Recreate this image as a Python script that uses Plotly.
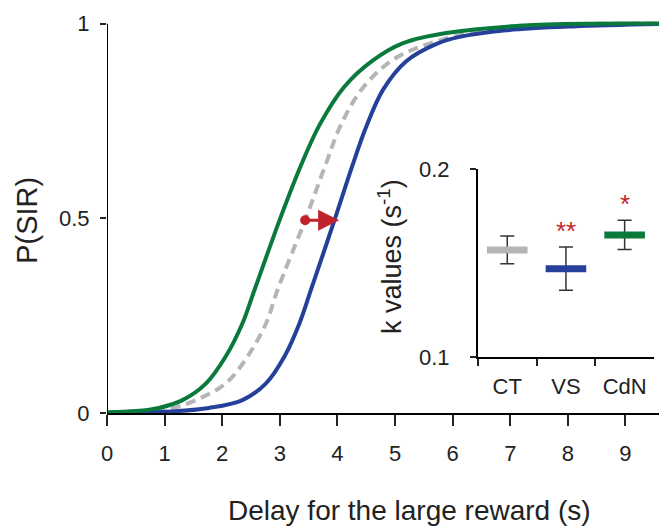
import plotly.graph_objects as go

# Psychometric curves: delay (s) vs P(SIR)
x_ct = [0, 1.0, 1.54, 2.06, 2.44, 2.76, 2.96, 3.44, 3.80, 4.06, 4.44, 4.96, 5.54, 6.3, 7.5, 9.9]
p_ct = [0.001, 0.008, 0.033, 0.076, 0.145, 0.23, 0.316, 0.496, 0.64, 0.74, 0.835, 0.907, 0.946, 0.975, 0.995, 1.0]

x_vs = [0, 1.0, 1.77, 2.35, 2.76, 3.08, 3.34, 3.54, 3.95, 4.27, 4.50, 4.79, 5.19, 5.72, 6.12, 6.93, 8.09, 9.9]
p_vs = [0.0, 0.003, 0.013, 0.033, 0.076, 0.145, 0.23, 0.316, 0.496, 0.64, 0.735, 0.83, 0.903, 0.948, 0.966, 0.983, 0.993, 1.0]

x_cdn = [0, 0.5, 0.9, 1.31, 1.72, 2.06, 2.35, 2.56, 3.02, 3.35, 3.69, 4.12, 4.61, 5.14, 5.89, 7.5, 9.9]
p_cdn = [0.002, 0.005, 0.013, 0.033, 0.076, 0.145, 0.23, 0.316, 0.505, 0.63, 0.74, 0.838, 0.905, 0.95, 0.976, 0.997, 1.0]

# shift arrow (CT -> VS at P = 0.5)
shift_from = 3.44
shift_to = 4.03
shift_p = 0.495

# inset: k values
regions = ["CT", "VS", "CdN"]
k_mean = [0.157, 0.147, 0.165]
k_err = [0.0074, 0.0115, 0.0078]
stars = ["", "**", "*"]

GREEN = "#0A7A3C"
BLUE = "#25409A"
GRAY = "#B5B5B5"
RED = "#C1232C"
FONT = "Arial, Liberation Sans, sans-serif"
bar_colors = [GRAY, BLUE, GREEN]

fig = go.Figure()

fig.add_trace(go.Scatter(x=x_ct, y=p_ct, mode="lines", line_shape="spline",
                         line=dict(color=GRAY, width=4, dash="10px,6px")))
fig.add_trace(go.Scatter(x=x_vs, y=p_vs, mode="lines", line_shape="spline",
                         line=dict(color=BLUE, width=4)))
fig.add_trace(go.Scatter(x=x_cdn, y=p_cdn, mode="lines", line_shape="spline",
                         line=dict(color=GREEN, width=4)))

# red dot + arrow
fig.add_trace(go.Scatter(x=[shift_from], y=[shift_p], mode="markers",
                         marker=dict(color=RED, size=10)))
fig.add_annotation(x=shift_to, y=shift_p, ax=shift_from, ay=shift_p,
                   xref="x", yref="y", axref="x", ayref="y", text="",
                   showarrow=True, arrowhead=2, arrowsize=1.4, arrowwidth=3,
                   arrowcolor=RED, standoff=0)

# inset error bars then thick mean bars
fig.add_trace(go.Scatter(x=regions, y=k_mean, xaxis="x2", yaxis="y2", mode="markers",
                         marker=dict(size=1, color="rgba(0,0,0,0)"),
                         error_y=dict(type="data", array=k_err, color="#333333",
                                      thickness=1.5, width=7)))
fig.add_trace(go.Scatter(x=regions, y=k_mean, xaxis="x2", yaxis="y2", mode="markers",
                         marker=dict(symbol="line-ew", size=29,
                                     line=dict(width=7, color=bar_colors))))

for r, m, e, s in zip(regions, k_mean, k_err, stars):
    if s:
        fig.add_annotation(x=r, y=m + e + 0.0085, xref="x2", yref="y2", text=s,
                           showarrow=False, font=dict(size=26, color=RED, family=FONT))

# y-axis line of main plot (stops at 1)
fig.add_shape(type="line", x0=0, x1=0, y0=0, y1=1, xref="x", yref="y",
              line=dict(color="black", width=2))

TICKFONT = dict(size=22, color="#222222", family=FONT)

fig.update_layout(
    width=667, height=527,
    margin=dict(l=99, r=0, t=11, b=122),
    plot_bgcolor="white", paper_bgcolor="white",
    showlegend=False,
    font=dict(family=FONT, size=22, color="#222222"),
    xaxis=dict(range=[0, 9.86], tickvals=list(range(10)), showgrid=False, zeroline=False,
               showline=True, linecolor="black", linewidth=2, tickfont=TICKFONT,
               ticks="outside", ticklen=11, tickwidth=1.5, tickcolor="#222222",
               ticklabelstandoff=9),
    yaxis=dict(range=[0, 1.012], tickvals=[0, 0.5, 1], ticktext=["0", "0.5", "1"],
               showgrid=False, zeroline=False, showline=False, tickfont=TICKFONT,
               ticks="outside", ticklen=6, tickwidth=1.5, tickcolor="#222222",
               ticklabelstandoff=6),
    xaxis2=dict(domain=[0.653, 0.963], anchor="y2", type="category",
                range=[-0.5, 2.5], tickson="boundaries", showgrid=False, zeroline=False,
                showline=True, linecolor="black", linewidth=2, tickfont=TICKFONT,
                ticks="outside", ticklen=7, tickwidth=1.5, tickcolor="#222222",
                ticklabelstandoff=9),
    yaxis2=dict(domain=[0.142, 0.619], anchor="x2", range=[0.1, 0.2],
                tickvals=[0.1, 0.2], ticktext=["0.1", "0.2"], showgrid=False,
                zeroline=False, showline=True, linecolor="black", linewidth=2,
                tickfont=TICKFONT,
                ticks="outside", ticklen=6, tickwidth=1.5, tickcolor="#222222",
                ticklabelstandoff=16),
)

# axis titles as annotations
fig.add_annotation(x=-0.141, y=0.49, xref="paper", yref="paper", text="P(SIR)",
                   textangle=-90, showarrow=False, xanchor="center", yanchor="middle",
                   font=dict(size=29))
fig.add_annotation(x=0.498, y=0.398, xref="paper", yref="paper",
                   text="k values (s<sup>-1</sup>)", textangle=-90, showarrow=False,
                   xanchor="center", yanchor="middle", font=dict(size=27))
fig.add_annotation(x=0.532, y=-0.247, xref="paper", yref="paper",
                   text="Delay for the large reward (s)", showarrow=False,
                   xanchor="center", yanchor="middle", font=dict(size=28))

fig.write_html("out.html")
